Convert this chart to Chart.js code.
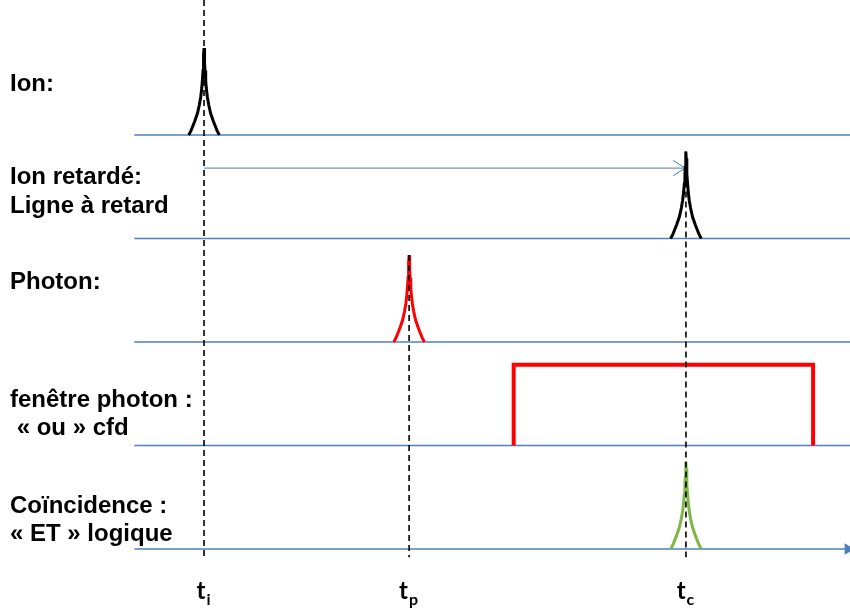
<!DOCTYPE html>
<html>
<head>
<meta charset="utf-8">
<title>Chronogramme coïncidence</title>
<script src="https://cdn.jsdelivr.net/npm/chart.js@4/dist/chart.umd.min.js"></script>
<style>
    body { margin: 0; background: #fff; }
    #wrap { width: 850px; height: 610px; }
</style>
</head>
<body>
<div id="wrap"><canvas id="timing"></canvas></div>
<script>
/* ------------------------------- Data -------------------------------*/

const eventNames = ["i", "p", "c"];                 // indices des temps t_i, t_p, t_c
const eventTimes = [0, 20, 47];                     // temps (unités arbitraires)

const rowLabels = [
    ["Ion:"],
    ["Ion retardé:", "Ligne à retard"],
    ["Photon:"],
    ["fenêtre photon :", " « ou » cfd"],
    ["Coïncidence :", "« ET » logique"]
];
const rowLevels = [4, 3, 2, 1, 0];                  // niveau de la ligne de base

const pulseDt = [-1.5, -1.4, -1.27, -1.1, -0.9, -0.64, -0.45, -0.32, -0.22, -0.16, -0.1, -0.07, -0.03, 0,
                 0.03, 0.07, 0.1, 0.16, 0.22, 0.32, 0.45, 0.64, 0.9, 1.1, 1.27, 1.4, 1.5];
const pulseShape = [0, 0.02, 0.05, 0.1, 0.16, 0.25, 0.35, 0.44, 0.54, 0.63, 0.74, 0.82, 0.92, 1,
                    0.92, 0.82, 0.74, 0.63, 0.54, 0.44, 0.35, 0.25, 0.16, 0.1, 0.05, 0.02, 0];
const pulseAmp = 0.84;

const pulseRows = [0, 1, 2, 4];                     // lignes qui portent une impulsion
const pulseEvents = [0, 2, 1, 2];                   // à quel temps
const pulseColors = ["#000000", "#000000", "#ff0000", "#7cb843"];

const windowStart = 30.2;                           // fenêtre photon
const windowEnd = 59.4;
const windowAmp = 0.78;

const axisStart = -6.8;
const axisEnd = 63;
const delayLevel = 3.68;                            // flèche de la ligne à retard
const dashBottom = -0.08;

/* ------------------------------- Build datasets -------------------------------*/

function pulsePoints(t0, base) {
    var pts = [];
    for (let i = 0; i < pulseDt.length; i++)
        pts.push({ x: t0 + pulseDt[i], y: base + pulseShape[i] * pulseAmp });
    return pts;
}

function lineSet(data, color, width, order, extra) {
    return Object.assign({
        data: data,
        showLine: true,
        borderColor: color,
        backgroundColor: color,
        borderWidth: width,
        pointRadius: 0,
        pointHoverRadius: 0,
        tension: 0,
        order: order
    }, extra || {});
}

var datasets = [];

rowLevels.forEach(function (lvl, i) {                           // lignes de base bleues
    var last = i == rowLevels.length - 1;
    var end = last ? 62.8 : axisEnd;
    datasets.push(lineSet([{ x: axisStart, y: lvl }, { x: end, y: lvl }], "#4f81bd", 1.6, 5, last ? {
        pointRadius: [0, 5],
        pointStyle: "triangle",
        rotation: 90
    } : {}));
});

var dashTops = [5.4, rowLevels[2] + pulseAmp, rowLevels[1] + pulseAmp];
eventTimes.forEach(function (t, i) {                            // pointillés verticaux
    datasets.push(lineSet([{ x: t, y: dashTops[i] }, { x: t, y: dashBottom }], "#000000", 1.6, 2,
        { borderDash: [6, 4] }));
});

datasets.push(lineSet([{ x: eventTimes[0], y: delayLevel }, { x: eventTimes[2] - 0.07, y: delayLevel }],
    "#4a7ebb", 1, 4));
datasets.push(lineSet([
    { x: eventTimes[2] - 1.24, y: delayLevel + 0.074 },
    { x: eventTimes[2] - 0.07, y: delayLevel },
    { x: eventTimes[2] - 1.24, y: delayLevel - 0.074 }
], "#4a7ebb", 1, 4));

pulseRows.forEach(function (r, i) {                             // impulsions
    datasets.push(lineSet(pulsePoints(eventTimes[pulseEvents[i]], rowLevels[r]), pulseColors[i], 3, 3));
});

var wl = rowLevels[3];
datasets.push(lineSet([
    { x: windowStart, y: wl },
    { x: windowStart, y: wl + windowAmp },
    { x: windowEnd, y: wl + windowAmp },
    { x: windowEnd, y: wl }
], "#ff0000", 4, 3, { borderJoinStyle: "miter" }));

/* ------------------------------- Text -------------------------------*/

var labelBaselines = [[91], [184, 213], [289], [407, 435], [513, 541]];

var textPlugin = {
    id: "timingText",
    afterDraw: function (chart) {
        var ctx = chart.ctx;
        var xs = chart.scales.x;
        ctx.save();
        ctx.fillStyle = "#000";
        ctx.textBaseline = "alphabetic";
        ctx.font = "bold 24px 'Liberation Sans', Arial, sans-serif";
        rowLabels.forEach(function (lines, r) {
            lines.forEach(function (txt, k) {
                ctx.fillText(txt, 10, labelBaselines[r][k]);
            });
        });

        eventTimes.forEach(function (t, i) {                    // t_i, t_p, t_c
            ctx.font = "bold 24px Lato, sans-serif";
            var w1 = ctx.measureText("t").width;
            ctx.font = "bold 16px Lato, sans-serif";
            var w2 = ctx.measureText(eventNames[i]).width;
            var left = xs.getPixelForValue(t) - 1 - (w1 + w2) / 2;
            ctx.font = "bold 24px Lato, sans-serif";
            ctx.fillText("t", left, 599);
            ctx.font = "bold 16px Lato, sans-serif";
            ctx.fillText(eventNames[i], left + w1 + 1, 605);
        });
        ctx.restore();
    }
};

/* ------------------------------- Chart -------------------------------*/

new Chart(document.getElementById("timing").getContext("2d"), {
    type: "scatter",
    data: { datasets: datasets },
    options: {
        responsive: true,
        maintainAspectRatio: false,
        animation: false,
        layout: { padding: 0, autoPadding: false },
        plugins: {
            legend: { display: false },
            tooltip: { enabled: false }
        },
        scales: {
            x: { type: "linear", display: false, min: -19.9, max: 63 },
            y: { type: "linear", display: false, min: -0.589, max: 5.304 }
        }
    },
    plugins: [textPlugin]
});
</script>
</body>
</html>
